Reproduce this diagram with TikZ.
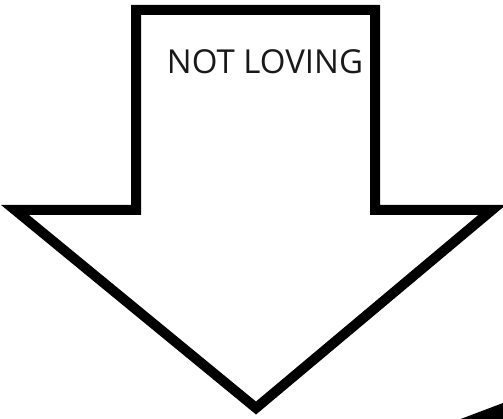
\documentclass[tikz,border=0pt]{standalone}
\usepackage{fontspec}
\setmainfont{Open Sans}
\tikzset{arrowshape/.style={draw=black, line width=10pt, line join=miter, miter limit=20, fill=white}}
\begin{document}
\begin{tikzpicture}[x=1pt,y=-1pt]
\useasboundingbox (0,0) rectangle (503,419);
\draw[arrowshape] (136,10) -- (375,10) -- (375,210) -- (492,210) -- (256,408) -- (15,210) -- (136,210) -- cycle;
\node[font=\fontsize{33}{38}\selectfont, text=black!90] (lbl) at (265,62) {NOT LOVING};
\fill[black] (458,420) -- (503,403) -- (503,420) -- cycle;
\end{tikzpicture}
\end{document}
